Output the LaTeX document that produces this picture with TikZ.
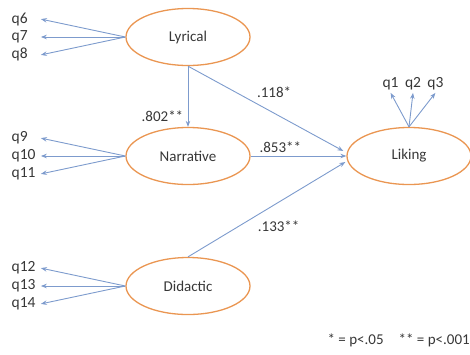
\documentclass[tikz,border=0pt]{standalone}
\usepackage{fontspec}
\setmainfont{Carlito}
\usepackage{xcolor}
\usepackage{tikz}
\usetikzlibrary{
    arrows.meta,
    positioning,
    shapes.geometric,
    calc,
}

\definecolor{latentorange}{RGB}{234,150,82}
\definecolor{pathblue}{RGB}{125,155,205}
\definecolor{labelgray}{RGB}{55,55,55}

\begin{document}
\begin{tikzpicture}[
        x=1pt, y=-1pt,
        >={Stealth[length=6pt, width=4.5pt]},
        node distance=0pt and 84.5pt,
        latent/.style={
            ellipse, draw=latentorange, line width=1.3pt,
            minimum width=124pt, minimum height=57pt,
            text=labelgray, font=\fontsize{15}{18}\selectfont
        },
        ind/.style={
            inner xsep=3pt, inner ysep=0pt, minimum height=17.5pt,
            text=labelgray, font=\fontsize{15.5}{18}\selectfont
        },
        item/.style={ind, text width=26pt, align=left},
        coef/.style={text=labelgray, font=\fontsize{15}{18}\selectfont},
        arrow/.style={->, pathblue, line width=0.9pt},
    ]

    \useasboundingbox (0,0) rectangle (470,354);

    % ── Latent variables ──
    \node[latent] (lyrical) at (188,37) {Lyrical};
    \node[latent] (narrative) at (188,156) {Narrative};
    \node[latent] (didactic) at (188,286) {Didactic};
    \node[latent] (liking) at (409,156) {Liking};

    % ── Indicators ──
    \node[item, left=of lyrical] (q7) {q7};
    \node[item, above=of q7] (q6) {q6};
    \node[item, below=of q7] (q8) {q8};

    \node[item, left=of narrative] (q10) {q10};
    \node[item, above=of q10] (q9) {q9};
    \node[item, below=of q10] (q11) {q11};

    \node[item, left=of didactic] (q13) {q13};
    \node[item, above=of q13] (q12) {q12};
    \node[item, below=of q13] (q14) {q14};

    \node[ind, above=34pt of liking, xshift=4pt] (q2) {q2};
    \node[ind, left=0pt of q2] (q1) {q1};
    \node[ind, right=0pt of q2] (q3) {q3};

    % ── Loadings ──
    \draw[arrow] (lyrical.west) -- (q6.east);
    \draw[arrow] (lyrical.west) -- (q7.east);
    \draw[arrow] (lyrical.west) -- (q8.east);
    \draw[arrow] (narrative.west) -- (q9.east);
    \draw[arrow] (narrative.west) -- (q10.east);
    \draw[arrow] (narrative.west) -- (q11.east);
    \draw[arrow] (didactic.west) -- (q12.east);
    \draw[arrow] (didactic.west) -- (q13.east);
    \draw[arrow] (didactic.west) -- (q14.east);
    \draw[arrow] (liking.north) -- (q1.south);
    \draw[arrow] (liking.north) -- (q2.south);
    \draw[arrow] (liking.north) -- (q3.south);

    % ── Structural paths ──
    \draw[arrow] (lyrical.south) -- (narrative.north)
        node[coef, pos=0.83, left=1pt] {.802**};
    \draw[arrow] (lyrical.south) -- ($(liking.west)+(-3,-5)$)
        node[coef, pos=0.42, above right=0pt] {.118*};
    \draw[arrow] (narrative.east) -- (liking.west)
        node[coef, pos=0.31, above] {.853**};
    \draw[arrow] (didactic.north) -- ($(liking.west)+(-1,6)$)
        node[coef, pos=0.42, below right=0pt] {.133**};

    % ── Legend ──
    \node[coef, anchor=east, inner sep=0pt] (legend) at (470,340)
        {* = p<.05\quad ** = p<.001};

\end{tikzpicture}
\end{document}
